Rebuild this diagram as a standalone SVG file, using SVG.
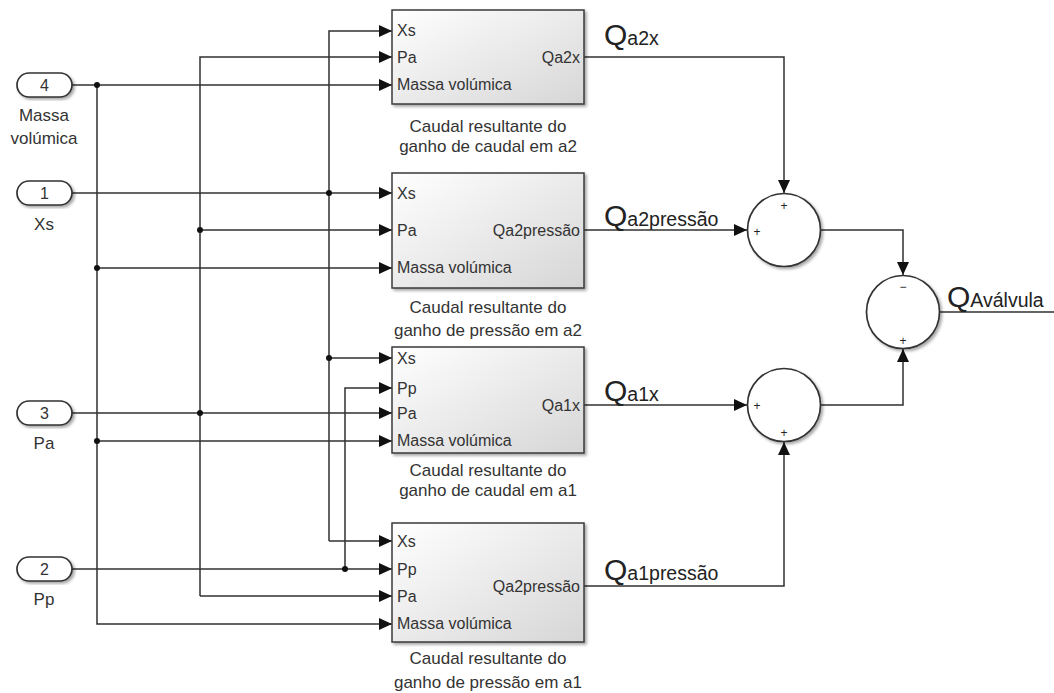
<svg xmlns="http://www.w3.org/2000/svg" width="1054" height="693" viewBox="0 0 1054 693">
  <style>
    .wire { fill: none; stroke: #303030; stroke-width: 1.5; }
    .blk { fill: url(#blkFill); stroke: #3a3a3a; stroke-width: 1.5; filter: url(#shadow); }
    .sum { fill: #ffffff; stroke: #333333; stroke-width: 1.7; filter: url(#shadow); }
    .port { fill: #ffffff; stroke: #333333; stroke-width: 1.7; filter: url(#shadow); }
    .t { font-family: "Liberation Sans", Arial, sans-serif; font-size: 16px; fill: #333333; }
    .cap { font-size: 17px; }
    .mid { text-anchor: middle; }
    .end { text-anchor: end; }
    .sign { font-family: "Liberation Sans", Arial, sans-serif; font-size: 12px; fill: #222222; text-anchor: middle; }
    .q { font-family: "Liberation Sans", Arial, sans-serif; font-size: 30px; fill: #222222; }
    .qs { font-size: 19.5px; }
    .dot { fill: #111111; }
  </style>
  <defs>
    <linearGradient id="blkFill" x1="0" y1="0" x2="1" y2="1">
      <stop offset="0" stop-color="#ffffff"/>
      <stop offset="1" stop-color="#d6d6d6"/>
    </linearGradient>
    <filter id="shadow" x="-10%" y="-10%" width="125%" height="125%">
      <feGaussianBlur in="SourceAlpha" stdDeviation="1.5"/>
      <feOffset dx="2" dy="2" result="b"/>
      <feComponentTransfer><feFuncA type="linear" slope="0.35"/></feComponentTransfer>
      <feMerge><feMergeNode/><feMergeNode in="SourceGraphic"/></feMerge>
    </filter>
    <marker id="arr" viewBox="0 0 13 12" refX="13" refY="6" markerWidth="13" markerHeight="12" markerUnits="userSpaceOnUse" orient="auto">
      <path d="M0,0 L13,6 L0,12 Z" fill="#111111"/>
    </marker>
  </defs>

  <!-- signal wiring -->
  <g id="connectors">
    <!-- inport 4: Massa volúmica -->
    <path class="wire" d="M72,85 H392" marker-end="url(#arr)"/>
    <path class="wire" d="M97,85 V624 H392" marker-end="url(#arr)"/>
    <path class="wire" d="M97,268 H392" marker-end="url(#arr)"/>
    <path class="wire" d="M97,441 H392" marker-end="url(#arr)"/>
    <!-- inport 1: Xs -->
    <path class="wire" d="M72,193 H392" marker-end="url(#arr)"/>
    <path class="wire" d="M329,541 V31 H392" marker-end="url(#arr)"/>
    <path class="wire" d="M329,541 H392" marker-end="url(#arr)"/>
    <path class="wire" d="M329,358 H392" marker-end="url(#arr)"/>
    <!-- inport 3: Pa -->
    <path class="wire" d="M72,413 H392" marker-end="url(#arr)"/>
    <path class="wire" d="M200,596 V57 H392" marker-end="url(#arr)"/>
    <path class="wire" d="M200,596 H392" marker-end="url(#arr)"/>
    <path class="wire" d="M200,230 H392" marker-end="url(#arr)"/>
    <!-- inport 2: Pp -->
    <path class="wire" d="M72,569 H392" marker-end="url(#arr)"/>
    <path class="wire" d="M345,569 V388 H392" marker-end="url(#arr)"/>
    <!-- block outputs to sums -->
    <path class="wire" d="M584,57 H784 V193" marker-end="url(#arr)"/>
    <path class="wire" d="M584,230 H747" marker-end="url(#arr)"/>
    <path class="wire" d="M821,230 H903 V275" marker-end="url(#arr)"/>
    <path class="wire" d="M584,405 H747" marker-end="url(#arr)"/>
    <path class="wire" d="M584,586 H784 V442" marker-end="url(#arr)"/>
    <path class="wire" d="M821,405 H903 V349" marker-end="url(#arr)"/>
    <path class="wire" d="M940,312 H1054"/>
    <!-- branch points -->
    <circle class="dot" cx="97" cy="85" r="3"/>
    <circle class="dot" cx="97" cy="268" r="3"/>
    <circle class="dot" cx="97" cy="441" r="3"/>
    <circle class="dot" cx="329" cy="193" r="3"/>
    <circle class="dot" cx="329" cy="358" r="3"/>
    <circle class="dot" cx="200" cy="230" r="3"/>
    <circle class="dot" cx="200" cy="413" r="3"/>
    <circle class="dot" cx="345" cy="569" r="3"/>
  </g>

  <!-- inports -->
  <g id="in4">
    <rect class="port" x="17" y="73" width="55" height="24" rx="12"/>
    <text class="t mid" x="44.5" y="91">4</text>
    <text class="t cap mid" x="44" y="121">Massa</text>
    <text class="t cap mid" x="44" y="144">volúmica</text>
  </g>
  <g id="in1">
    <rect class="port" x="17" y="181" width="55" height="24" rx="12"/>
    <text class="t mid" x="44.5" y="199">1</text>
    <text class="t cap mid" x="44" y="230">Xs</text>
  </g>
  <g id="in3">
    <rect class="port" x="17" y="401" width="55" height="24" rx="12"/>
    <text class="t mid" x="44.5" y="419">3</text>
    <text class="t cap mid" x="44" y="449">Pa</text>
  </g>
  <g id="in2">
    <rect class="port" x="17" y="557" width="55" height="24" rx="12"/>
    <text class="t mid" x="44.5" y="575">2</text>
    <text class="t cap mid" x="44" y="605">Pp</text>
  </g>

  <!-- subsystem blocks -->
  <g id="blk_a2_caudal">
    <rect class="blk" x="392" y="10" width="192" height="94"/>
    <text class="t" x="397" y="36">Xs</text>
    <text class="t" x="397" y="63">Pa</text>
    <text class="t" x="397" y="90">Massa volúmica</text>
    <text class="t end" x="580" y="63">Qa2x</text>
    <text class="t cap mid" x="488" y="132">Caudal resultante do</text>
    <text class="t cap mid" x="488" y="152">ganho de caudal em a2</text>
  </g>
  <g id="blk_a2_pressao">
    <rect class="blk" x="392" y="173" width="192" height="115"/>
    <text class="t" x="397" y="199">Xs</text>
    <text class="t" x="397" y="236">Pa</text>
    <text class="t" x="397" y="273">Massa volúmica</text>
    <text class="t end" x="580" y="236">Qa2pressão</text>
    <text class="t cap mid" x="488" y="313">Caudal resultante do</text>
    <text class="t cap mid" x="488" y="336">ganho de pressão em a2</text>
  </g>
  <g id="blk_a1_caudal">
    <rect class="blk" x="392" y="347" width="192" height="106"/>
    <text class="t" x="397" y="364">Xs</text>
    <text class="t" x="397" y="394">Pp</text>
    <text class="t" x="397" y="419">Pa</text>
    <text class="t" x="397" y="446">Massa volúmica</text>
    <text class="t end" x="580" y="411">Qa1x</text>
    <text class="t cap mid" x="488" y="476">Caudal resultante do</text>
    <text class="t cap mid" x="488" y="496">ganho de caudal em a1</text>
  </g>
  <g id="blk_a1_pressao">
    <rect class="blk" x="392" y="523" width="192" height="119"/>
    <text class="t" x="397" y="547">Xs</text>
    <text class="t" x="397" y="575">Pp</text>
    <text class="t" x="397" y="602">Pa</text>
    <text class="t" x="397" y="629">Massa volúmica</text>
    <text class="t end" x="580" y="592">Qa2pressão</text>
    <text class="t cap mid" x="488" y="664">Caudal resultante do</text>
    <text class="t cap mid" x="488" y="688">ganho de pressão em a1</text>
  </g>

  <!-- summing junctions -->
  <g id="sum_a2">
    <circle class="sum" cx="784" cy="230" r="36.5"/>
    <text class="sign" x="784" y="210">+</text>
    <text class="sign" x="757" y="236">+</text>
  </g>
  <g id="sum_a1">
    <circle class="sum" cx="784" cy="405" r="36.5"/>
    <text class="sign" x="757" y="410">+</text>
    <text class="sign" x="784" y="437">+</text>
  </g>
  <g id="sum_total">
    <circle class="sum" cx="903" cy="312" r="36.5"/>
    <text class="sign" x="903" y="291">−</text>
    <text class="sign" x="903" y="345">+</text>
  </g>

  <!-- signal names -->
  <g id="labels">
    <text class="q" x="604" y="45">Q<tspan class="qs">a2x</tspan></text>
    <text class="q" x="604" y="226">Q<tspan class="qs">a2pressão</tspan></text>
    <text class="q" x="604" y="401">Q<tspan class="qs">a1x</tspan></text>
    <text class="q" x="604" y="580">Q<tspan class="qs">a1pressão</tspan></text>
    <text class="q" x="947" y="307">Q<tspan class="qs">Aválvula</tspan></text>
  </g>
</svg>
